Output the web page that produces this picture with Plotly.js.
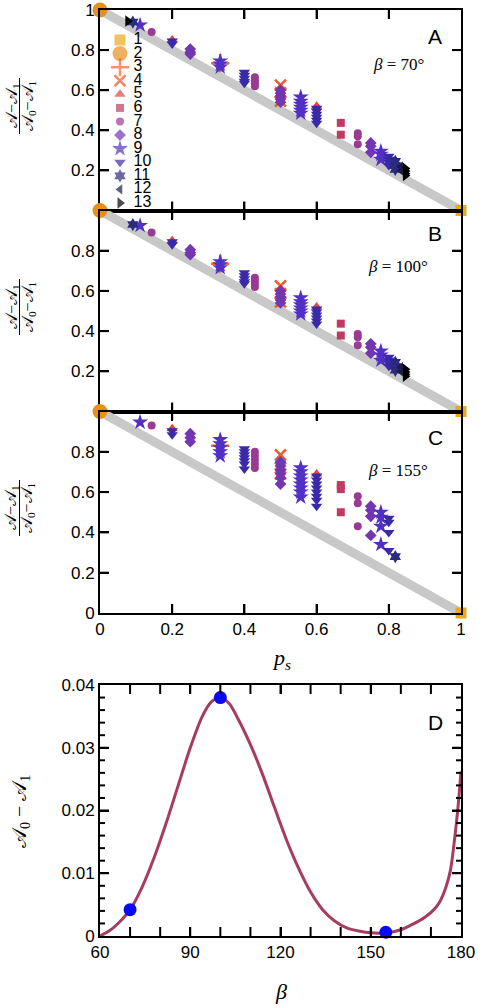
<!DOCTYPE html>
<html>
<head>
<meta charset="utf-8">
<script src="https://cdn.plot.ly/plotly-3.0.1.min.js"></script>
<style>html,body{margin:0;padding:0;background:#fff;}#chart{width:482px;height:1008px;}</style>
</head>
<body>
<div id="chart"></div>
<script>
// ---------- series (legend) ----------
const seriesIds = [1,2,3,4,5,6,7,8,9,10,11,12,13];
const seriesSymbols = ['square','circle','cross-thin-open','x-thin-open','triangle-up','square','circle','diamond','star','triangle-down','hexagram','triangle-left','triangle-right'];
const seriesColors = ['#E8AA1A','#E8901C','#F26A26','#EE5A2A','#E04444','#C23A62','#9A3A94','#7436B0','#5230C6','#3A2AAA','#2A2A7E','#1C1C48','#000000'];
const seriesSizes = [11,15,13,11,10,8,8,9,12,10,10,9,10];

// ---------- diagonal reference line ----------
const diagPs = [0, 1];
const diagVal = [1, 0];

// ---------- panel A (beta = 70) ----------
const aSeries = [2,1,13,11,9,7,5,10,10,8,8,8,3,9,9,9,10,10,10,10,10,7,7,7,7,4,4,4,8,8,8,8,8,9,9,9,9,9,9,5,10,10,10,10,10,10,6,6,7,7,7,8,8,8,9,9,9,10,10,10,10,11,11,11,12,12,13,13,13,13];
const aPs    = [0,1,0.077,0.091,0.111,0.143,0.2,0.2,0.2,0.25,0.25,0.25,0.333,0.333,0.333,0.333,0.4,0.4,0.4,0.4,0.4,0.429,0.429,0.429,0.429,0.5,0.5,0.5,0.5,0.5,0.5,0.5,0.5,0.556,0.556,0.556,0.556,0.556,0.556,0.6,0.6,0.6,0.6,0.6,0.6,0.6,0.667,0.667,0.714,0.714,0.714,0.75,0.75,0.75,0.778,0.778,0.778,0.8,0.8,0.8,0.8,0.818,0.818,0.818,0.833,0.833,0.846,0.846,0.846,0.846];
const aVal   = [1,0,0.945,0.94,0.925,0.89,0.85,0.845,0.83,0.805,0.79,0.78,0.735,0.745,0.73,0.715,0.69,0.675,0.66,0.645,0.635,0.665,0.65,0.635,0.62,0.625,0.587,0.545,0.60,0.585,0.57,0.555,0.54,0.565,0.545,0.53,0.515,0.50,0.485,0.52,0.51,0.495,0.48,0.465,0.45,0.435,0.437,0.378,0.385,0.37,0.33,0.337,0.32,0.29,0.295,0.28,0.255,0.27,0.255,0.24,0.225,0.245,0.225,0.205,0.22,0.2,0.21,0.197,0.185,0.175];

// ---------- panel B (beta = 100) ----------
const bSeries = [2,1,11,9,7,5,10,10,8,8,8,3,9,9,9,10,10,10,10,10,7,7,7,7,4,4,4,8,8,8,8,8,9,9,9,9,9,9,5,10,10,10,10,10,10,6,6,7,7,7,8,8,8,9,9,9,10,10,10,10,11,11,11,12,12,13,13,13,13];
const bPs    = [0,1,0.091,0.111,0.143,0.2,0.2,0.2,0.25,0.25,0.25,0.333,0.333,0.333,0.333,0.4,0.4,0.4,0.4,0.4,0.429,0.429,0.429,0.429,0.5,0.5,0.5,0.5,0.5,0.5,0.5,0.5,0.556,0.556,0.556,0.556,0.556,0.556,0.6,0.6,0.6,0.6,0.6,0.6,0.6,0.667,0.667,0.714,0.714,0.714,0.75,0.75,0.75,0.778,0.778,0.778,0.8,0.8,0.8,0.8,0.818,0.818,0.818,0.833,0.833,0.846,0.846,0.846,0.846];
const bVal   = [1,0,0.93,0.925,0.89,0.85,0.845,0.83,0.805,0.79,0.78,0.735,0.745,0.73,0.715,0.69,0.675,0.66,0.645,0.635,0.665,0.65,0.635,0.62,0.625,0.587,0.545,0.60,0.585,0.57,0.555,0.54,0.565,0.545,0.53,0.515,0.50,0.485,0.52,0.51,0.495,0.48,0.465,0.45,0.435,0.437,0.378,0.385,0.37,0.33,0.337,0.32,0.29,0.30,0.28,0.255,0.27,0.255,0.24,0.225,0.245,0.225,0.205,0.22,0.2,0.21,0.197,0.185,0.175];

// ---------- panel C (beta = 155) ----------
const cSeries = [2,1,9,7,5,10,10,8,8,8,3,9,9,9,9,9,10,10,10,10,10,10,10,7,7,7,7,7,4,4,4,8,8,8,8,8,8,9,9,9,9,9,9,9,9,5,10,10,10,10,10,10,10,10,6,6,6,7,7,7,8,8,8,8,9,9,9,9,10,10,10,10,11];
const cPs    = [0,1,0.111,0.143,0.2,0.2,0.2,0.25,0.25,0.25,0.333,0.333,0.333,0.333,0.333,0.333,0.4,0.4,0.4,0.4,0.4,0.4,0.4,0.429,0.429,0.429,0.429,0.429,0.5,0.5,0.5,0.5,0.5,0.5,0.5,0.5,0.5,0.556,0.556,0.556,0.556,0.556,0.556,0.556,0.556,0.6,0.6,0.6,0.6,0.6,0.6,0.6,0.6,0.6,0.667,0.667,0.667,0.714,0.714,0.714,0.75,0.75,0.75,0.75,0.778,0.778,0.778,0.778,0.8,0.8,0.8,0.8,0.818];
const cVal   = [1,0,0.947,0.93,0.915,0.905,0.885,0.89,0.87,0.85,0.83,0.86,0.84,0.82,0.80,0.78,0.815,0.80,0.785,0.77,0.755,0.74,0.715,0.80,0.78,0.76,0.74,0.72,0.785,0.72,0.69,0.75,0.73,0.71,0.69,0.67,0.64,0.72,0.70,0.68,0.66,0.64,0.62,0.60,0.575,0.69,0.68,0.66,0.64,0.62,0.60,0.58,0.56,0.53,0.635,0.615,0.50,0.58,0.545,0.43,0.53,0.51,0.48,0.385,0.50,0.475,0.43,0.34,0.47,0.45,0.40,0.31,0.28];

// ---------- panel D ----------
const betaDeg = [60,63,66,70,74,78,82,86,90,94,97,100,103,106,110,114,118,122,126,130,134,138,142,146,150,155,160,164,168,171,173,175,176.5,178,179,180];
const areaDiff = [0,0.0008,0.002,0.0042,0.0078,0.0125,0.018,0.024,0.030,0.035,0.0373,0.038,0.037,0.0345,0.0305,0.0258,0.0205,0.0153,0.0108,0.007,0.0042,0.0024,0.0013,0.0008,0.0005,0.0005,0.001,0.0019,0.003,0.0042,0.0055,0.0078,0.0105,0.016,0.0205,0.0262];
const betaSel = [70,100,155];
const areaSel = [0.0042,0.038,0.0006];

// ---------- tick values ----------
const psTicks = [0.2,0.4,0.6,0.8];
const betaTicks = [70,80,90,100,110,120,130,140,150,160,170];
const diffMajorTicks = [0.01,0.02,0.03];
const diffMinorTicks = [0.002,0.004,0.006,0.008,0.012,0.014,0.016,0.018,0.022,0.024,0.026,0.028,0.032,0.034,0.036,0.038];

const panelBetas = ['70°','100°','155°'];
const panelLetters = ['A','B','C','D'];

// ---------- layout helpers ----------
const W = 482, H = 1008, ML = 100, MR = 21, MT = 10, MB = 72;
const PW = W - ML - MR, PH = H - MT - MB;
const px = v => (v - ML) / PW;
const py = v => (H - MB - v) / PH;

const SANS = 'Liberation Sans, Arial, Helvetica, sans-serif';
const SERIF = 'Liberation Serif, DejaVu Serif, Times New Roman, serif';

const traces = [];
function panelTraces(ser, ps, val, xa, ya) {
  traces.push({x: diagPs, y: diagVal, xaxis: xa, yaxis: ya, mode: 'lines',
    line: {color: '#C8C8C8', width: 9}, hoverinfo: 'skip', showlegend: false, cliponaxis: false});
  seriesIds.forEach((id, k) => {
    const xs = [], ys = [];
    ser.forEach((s, i) => { if (s === id) { xs.push(ps[i]); ys.push(val[i]); } });
    if (!xs.length) return;
    const thin = seriesSymbols[k].indexOf('thin') >= 0;
    traces.push({x: xs, y: ys, xaxis: xa, yaxis: ya, mode: 'markers', name: String(id),
      showlegend: false, cliponaxis: false,
      marker: {symbol: seriesSymbols[k], size: seriesSizes[k], color: seriesColors[k],
        line: {color: seriesColors[k], width: thin ? 2.5 : 0}}});
  });
}
panelTraces(aSeries, aPs, aVal, 'x', 'y');
panelTraces(bSeries, bPs, bVal, 'x2', 'y2');
panelTraces(cSeries, cPs, cVal, 'x3', 'y3');

// panel D
traces.push({x: betaDeg, y: areaDiff, xaxis: 'x4', yaxis: 'y4', mode: 'lines',
  line: {color: '#A63C5E', width: 3, shape: 'spline', smoothing: 0.8}, showlegend: false, cliponaxis: false});
traces.push({x: betaSel, y: areaSel, xaxis: 'x4', yaxis: 'y4', mode: 'markers',
  marker: {color: '#0A0AF0', size: 13}, showlegend: false, cliponaxis: false});

// custom legend (inside panel A), positioned by series index
traces.push({x: seriesIds.map(() => 0), y: seriesIds, xaxis: 'x5', yaxis: 'y5', mode: 'markers+text',
  text: seriesIds.map(String), textposition: 'middle right',
  textfont: {family: SANS, size: 16, color: '#000'},
  marker: {size: 20, color: 'rgba(0,0,0,0)'}, showlegend: false, cliponaxis: false, hoverinfo: 'skip'});
traces.push({x: seriesIds.map(() => 0), y: seriesIds, xaxis: 'x5', yaxis: 'y5', mode: 'markers',
  showlegend: false, cliponaxis: false, hoverinfo: 'skip',
  marker: {symbol: seriesSymbols, size: seriesSizes, color: seriesColors,
    line: {color: seriesColors, width: seriesSymbols.map(s => s.indexOf('thin') >= 0 ? 2.5 : 0)}}});

function ax(extra) {
  return Object.assign({
    showline: true, linewidth: 2, linecolor: '#000000', mirror: 'ticks', ticks: 'inside',
    ticklen: 9, tickwidth: 2, tickcolor: '#000000', showgrid: false, zeroline: false,
    tickfont: {family: SANS, size: 17, color: '#000'}
  }, extra);
}

const dA = [py(210.5), py(10)], dB = [py(411.5), py(210.5)], dC = [py(613), py(411.5)], dD = [0, py(685)];
const psRange = [0, 1], valRange = [0, 1], betaRange = [60, 180], diffRange = [0, 0.04];

const layout = {
  width: W, height: H, margin: {l: ML, r: MR, t: MT, b: MB},
  paper_bgcolor: '#ffffff', plot_bgcolor: '#ffffff', showlegend: false,
  xaxis:  ax({domain: [0,1], anchor: 'y', range: psRange, tick0: 0, dtick: 0.2, showticklabels: false}),
  yaxis:  ax({domain: dA, anchor: 'x', range: valRange, tick0: 0, dtick: 0.2, labelalias: {'0': ''}}),
  xaxis2: ax({domain: [0,1], anchor: 'y2', range: psRange, tick0: 0, dtick: 0.2, showticklabels: false}),
  yaxis2: ax({domain: dB, anchor: 'x2', range: valRange, tick0: 0, dtick: 0.2, labelalias: {'0': '', '1': ''}}),
  xaxis3: ax({domain: [0,1], anchor: 'y3', range: psRange, tick0: 0, dtick: 0.2}),
  yaxis3: ax({domain: dC, anchor: 'x3', range: valRange, tick0: 0, dtick: 0.2, labelalias: {'1': ''}}),
  xaxis4: ax({domain: [0,1], anchor: 'y4', range: betaRange, tick0: 60, dtick: 30}),
  yaxis4: ax({domain: dD, anchor: 'x4', range: diffRange, tick0: 0, dtick: 0.01}),
  xaxis5: {domain: [px(112), px(128)], anchor: 'y5', range: [-1,1], visible: false},
  yaxis5: {domain: [py(203), py(40)], anchor: 'x5', range: [13, 1], visible: false},
  annotations: [],
  shapes: []
};

// tick marks (inward, on all four sides), placed from each axis' domain and range
const TL = {color: '#000000', width: 2};
const lin = (v, r, d) => d[0] + (v - r[0]) / (r[1] - r[0]) * (d[1] - d[0]);
function xTicks(vals, xr, xd, yd, lenPx) {
  const l = lenPx / PH;
  vals.forEach(v => {
    const x = lin(v, xr, xd);
    layout.shapes.push({type: 'line', xref: 'paper', yref: 'paper', x0: x, x1: x, y0: yd[0], y1: yd[0] + l, line: TL});
    layout.shapes.push({type: 'line', xref: 'paper', yref: 'paper', x0: x, x1: x, y0: yd[1], y1: yd[1] - l, line: TL});
  });
}
function yTicks(vals, yr, yd, xd, lenPx) {
  const l = lenPx / PW;
  vals.forEach(v => {
    const y = lin(v, yr, yd);
    layout.shapes.push({type: 'line', xref: 'paper', yref: 'paper', x0: xd[0], x1: xd[0] + l, y0: y, y1: y, line: TL});
    layout.shapes.push({type: 'line', xref: 'paper', yref: 'paper', x0: xd[1], x1: xd[1] - l, y0: y, y1: y, line: TL});
  });
}
[dA, dB, dC].forEach(d => { xTicks(psTicks, psRange, [0,1], d, 9); yTicks(psTicks, valRange, d, [0,1], 9); });
xTicks(betaTicks, betaRange, [0,1], dD, 9);
yTicks(diffMajorTicks, diffRange, dD, [0,1], 9);
yTicks(diffMinorTicks, diffRange, dD, [0,1], 5);

// panel letters and beta labels
const letterY = [36, 234, 437, 722];
panelLetters.forEach((L, i) => layout.annotations.push({xref: 'paper', yref: 'paper', x: px(435), y: py(letterY[i]),
  text: L, showarrow: false, xanchor: 'center', yanchor: 'middle', font: {family: SANS, size: 21, color: '#000'}}));
const betaY = [65, 266, 470];
panelBetas.forEach((b, i) => layout.annotations.push({xref: 'paper', yref: 'paper', x: px(398), y: py(betaY[i]),
  text: '<i>β</i> = ' + b, showarrow: false, xanchor: 'center', yanchor: 'middle', font: {family: SERIF, size: 17, color: '#000'}}));

// fraction y-titles for A, B, C
[110, 311, 512].forEach(cy => {
  const c = cy - 4;
  layout.annotations.push({xref: 'paper', yref: 'paper', x: px(12), y: py(c), textangle: -90, showarrow: false,
    text: '𝒜−𝒜<sub>1</sub>', xanchor: 'center', yanchor: 'middle', font: {family: SERIF, size: 16, color: '#000'}});
  layout.annotations.push({xref: 'paper', yref: 'paper', x: px(28), y: py(c), textangle: -90, showarrow: false,
    text: '𝒜<sub>0</sub>−𝒜<sub>1</sub>', xanchor: 'center', yanchor: 'middle', font: {family: SERIF, size: 16, color: '#000'}});
  layout.shapes.push({type: 'line', xref: 'paper', yref: 'paper', x0: px(19.5), x1: px(19.5), y0: py(c - 28), y1: py(c + 28),
    line: {color: '#000', width: 1}});
});

// axis titles
layout.annotations.push({xref: 'paper', yref: 'paper', x: px(281), y: py(659), text: '<i>p<sub>s</sub></i>', showarrow: false,
  xanchor: 'center', yanchor: 'middle', font: {family: SERIF, size: 22, color: '#000'}});
layout.annotations.push({xref: 'paper', yref: 'paper', x: px(281), y: py(992), text: '<i>β</i>', showarrow: false,
  xanchor: 'center', yanchor: 'middle', font: {family: SERIF, size: 22, color: '#000'}});
layout.annotations.push({xref: 'paper', yref: 'paper', x: px(20), y: py(812), textangle: -90, text: '𝒜<sub>0</sub> − 𝒜<sub>1</sub>', showarrow: false,
  xanchor: 'center', yanchor: 'middle', font: {family: SERIF, size: 20, color: '#000'}});

Plotly.newPlot('chart', traces, layout, {displayModeBar: false});
</script>
</body>
</html>
